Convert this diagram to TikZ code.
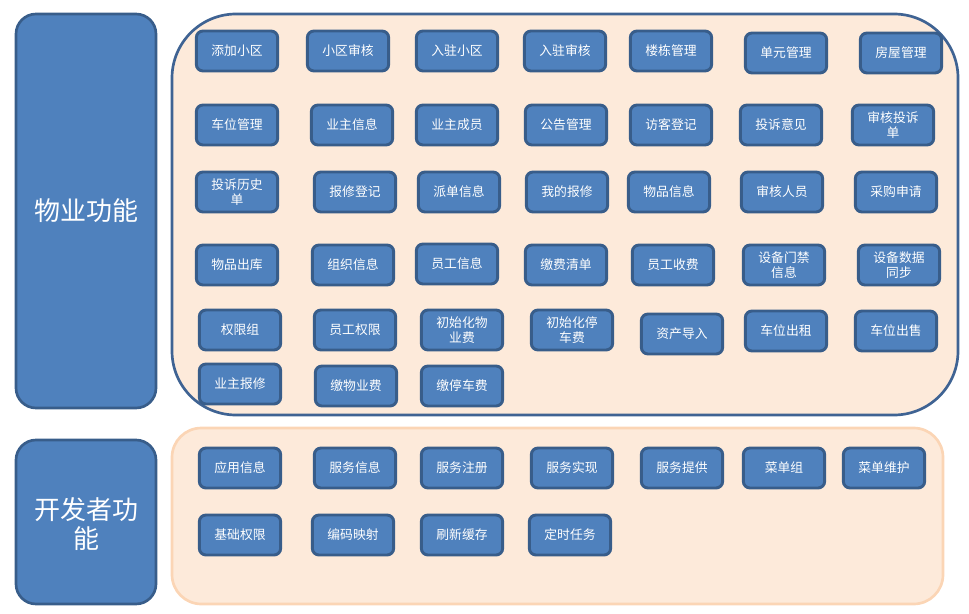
\documentclass[tikz,border=0pt]{standalone}
\usepackage{fontspec}
\setmainfont{Noto Sans CJK SC}
\usepackage{tikz}
\definecolor{boxblue}{HTML}{4F81BD}
\definecolor{boxedge}{HTML}{385D8A}
\definecolor{peach}{HTML}{FDEADA}
\definecolor{peachedge}{HTML}{FBD5B5}
\definecolor{bigedge}{HTML}{3F6393}
\tikzset{
  fn/.style={draw=boxedge, fill=boxblue, line width=2.2pt, rounded corners=5pt,
    minimum width=61pt, minimum height=30pt, inner sep=1pt, text=white,
    font=\fontsize{9.6}{11.2}\selectfont, align=center},
  side/.style={draw=boxedge, fill=boxblue, line width=2pt, rounded corners=15pt,
    text=white, font=\fontsize{19.5}{22}\selectfont, align=center}
}

\begin{document}
\begin{tikzpicture}[x=0.75pt, y=-0.75pt]
      \useasboundingbox (0,0) rectangle (969,613);
      % left column
      \draw [side] (16,14) rectangle (156,408);
      \node [text=white, font=\fontsize{19.5}{22}\selectfont] (wygn) at (86,211) {物业功能};
      \draw [side] (16,440) rectangle (156,604);
      \node [text=white, font=\fontsize{19.5}{22}\selectfont, align=center] (kfgn) at (86,524) {开发者功\\能};
      % containers
      \draw [draw=bigedge, fill=peach, line width=2pt, rounded corners=48pt] (172,14) rectangle (958,415);
      \draw [draw=peachedge, fill=peach, line width=2pt, rounded corners=22pt] (172,428) rectangle (943,604);
      % property functions
      \node [fn] (wy1) at (237,51) {添加小区};
      \node [fn] (wy2) at (348,51) {小区审核};
      \node [fn] (wy3) at (457,51) {入驻小区};
      \node [fn] (wy4) at (565,51) {入驻审核};
      \node [fn] (wy5) at (671,51) {楼栋管理};
      \node [fn] (wy6) at (786,53) {单元管理};
      \node [fn] (wy7) at (901,53) {房屋管理};
      \node [fn] (wy8) at (237,125) {车位管理};
      \node [fn] (wy9) at (352,125) {业主信息};
      \node [fn] (wy10) at (457,125) {业主成员};
      \node [fn] (wy11) at (566,125) {公告管理};
      \node [fn] (wy12) at (671,125) {访客登记};
      \node [fn] (wy13) at (781,125) {投诉意见};
      \node [fn] (wy14) at (893,125) {审核投诉\\单};
      \node [fn] (wy15) at (237,192) {投诉历史\\单};
      \node [fn] (wy16) at (355,192) {报修登记};
      \node [fn] (wy17) at (459,192) {派单信息};
      \node [fn] (wy18) at (567,192) {我的报修};
      \node [fn] (wy19) at (669,192) {物品信息};
      \node [fn] (wy20) at (782,192) {审核人员};
      \node [fn] (wy21) at (896,192) {采购申请};
      \node [fn] (wy22) at (237,265) {物品出库};
      \node [fn] (wy23) at (353,265) {组织信息};
      \node [fn] (wy24) at (457,264) {员工信息};
      \node [fn] (wy25) at (566,265) {缴费清单};
      \node [fn] (wy26) at (673,265) {员工收费};
      \node [fn] (wy27) at (784,265) {设备门禁\\信息};
      \node [fn] (wy28) at (899,265) {设备数据\\同步};
      \node [fn] (wy29) at (240,330) {权限组};
      \node [fn] (wy30) at (355,330) {员工权限};
      \node [fn] (wy31) at (462,330) {初始化物\\业费};
      \node [fn] (wy32) at (572,330) {初始化停\\车费};
      \node [fn] (wy33) at (682,334) {资产导入};
      \node [fn] (wy34) at (786,331) {车位出租};
      \node [fn] (wy35) at (896,331) {车位出售};
      \node [fn] (wy36) at (240,384) {业主报修};
      \node [fn] (wy37) at (356,386) {缴物业费};
      \node [fn] (wy38) at (462,386) {缴停车费};
      % developer functions
      \node [fn] (kf1) at (240,468) {应用信息};
      \node [fn] (kf2) at (355,468) {服务信息};
      \node [fn] (kf3) at (462,468) {服务注册};
      \node [fn] (kf4) at (572,468) {服务实现};
      \node [fn] (kf5) at (682,468) {服务提供};
      \node [fn] (kf6) at (784,468) {菜单组};
      \node [fn] (kf7) at (884,468) {菜单维护};
      \node [fn] (kf8) at (240,535) {基础权限};
      \node [fn] (kf9) at (353,535) {编码映射};
      \node [fn] (kf10) at (462,535) {刷新缓存};
      \node [fn] (kf11) at (570,535) {定时任务};
\end{tikzpicture}
\end{document}
